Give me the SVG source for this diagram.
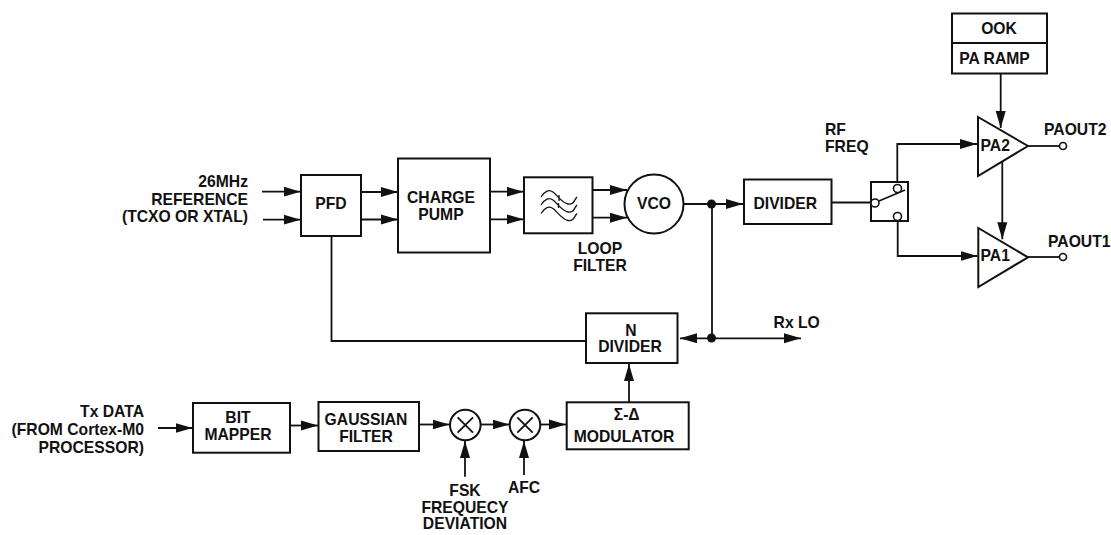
<svg xmlns="http://www.w3.org/2000/svg" width="1111" height="535" viewBox="0 0 1111 535">
<style>
text{font-family:"Liberation Sans",Arial,sans-serif;font-weight:700;font-size:15.7px;fill:#111;text-anchor:middle}
.r{text-anchor:end}
.s{text-anchor:start}
.b{fill:#fff;stroke:#111;stroke-width:2}
.c{fill:none;stroke:#111;stroke-width:1.8}
.t{fill:none;stroke:#111;stroke-width:1.3}
.o{fill:#fff;stroke:#111;stroke-width:1.6}
</style>
<defs>
<marker id="a" markerUnits="userSpaceOnUse" markerWidth="17" markerHeight="11" refX="17" refY="5.5" orient="auto-start-reverse"><path d="M0 .5L17 5.500L0 10.500z" fill="#111"/></marker>
</defs>
<rect width="1111" height="535" fill="#fff"/>
<g id="connectors">
<path class="c" d="M262 191.700H300.500" marker-end="url(#a)"/>
<path class="c" d="M263 219.700H300.500" marker-end="url(#a)"/>
<path class="c" d="M361 192H398" marker-end="url(#a)"/>
<path class="c" d="M361 219.500H398" marker-end="url(#a)"/>
<path class="c" d="M490 191.700H523.500" marker-end="url(#a)"/>
<path class="c" d="M490 219.300H523.500" marker-end="url(#a)"/>
<path class="c" d="M592 190H627" marker-end="url(#a)"/>
<path class="c" d="M592 217.700H627" marker-end="url(#a)"/>
<path class="c" d="M684 204H743" marker-end="url(#a)"/>
<path class="c" d="M712 204V338"/>
<path class="c" d="M331.500 236V341H586"/>
<path class="c" d="M680 338.300H801" marker-start="url(#a)" marker-end="url(#a)"/>
<path class="c" d="M831 202.500H871"/>
<path class="c" d="M897.300 182V144H977" marker-end="url(#a)"/>
<path class="c" d="M897.700 221V256H977.500" marker-end="url(#a)"/>
<path class="c" d="M1000.700 73V128" marker-end="url(#a)"/>
<path class="c" d="M1002.300 161V239.300" marker-end="url(#a)"/>
<path class="c" d="M1028 146H1060"/>
<path class="c" d="M1028 257H1060"/>
<path class="c" d="M629 402V364" marker-end="url(#a)"/>
<path class="c" d="M158 428H192.500" marker-end="url(#a)"/>
<path class="c" d="M290 425.500H318" marker-end="url(#a)"/>
<path class="c" d="M419 424.500H449.500" marker-end="url(#a)"/>
<path class="c" d="M480.500 424.500H509.500" marker-end="url(#a)"/>
<path class="c" d="M540 424.500H566" marker-end="url(#a)"/>
<path class="c" d="M465 476.700V441" marker-end="url(#a)"/>
<path class="c" d="M524 475V441" marker-end="url(#a)"/>
<circle cx="711.500" cy="204" r="4.500" fill="#111"/>
<circle cx="711.500" cy="338" r="4.500" fill="#111"/>
</g>
<g id="input-labels">
<text class="r" x="248" y="187">26MHz</text>
<text class="r" x="248" y="205">REFERENCE</text>
<text class="r" x="248" y="222">(TCXO OR XTAL)</text>
</g>
<g id="pfd"><rect class="b" x="301" y="175" width="60" height="61"/><text x="331" y="209">PFD</text></g>
<g id="charge-pump"><rect class="b" x="398" y="158.500" width="92" height="94"/><text x="441" y="203">CHARGE</text><text x="441" y="220">PUMP</text></g>
<g id="loop-filter"><rect class="b" x="524" y="177.300" width="68.500" height="56"/>
<path class="t" d="M541 197C545 191 549 189 553 192S562 203 568 204S574 200 577 197M541 205C545 199 549 197 553 200S562 211 568 212S574 208 577 205M541 213.500C545 207.500 549 205.500 553 208.500S562 219.500 568 220.500S574 216.500 577 213.500M559 195L559 201M558.500 203L558.500 208"/>
<text x="600" y="254">LOOP</text><text x="600" y="271">FILTER</text></g>
<g id="vco"><circle class="b" cx="654" cy="204" r="29.500"/><text x="654" y="209">VCO</text></g>
<g id="divider"><rect class="b" x="744" y="179.500" width="87.500" height="44.500"/><text x="785.300" y="209">DIVIDER</text></g>
<g id="rf-freq"><text class="s" x="825" y="135">RF</text><text class="s" x="825" y="152">FREQ</text></g>
<g id="switch"><rect class="b" x="871" y="182" width="37" height="39"/><path class="c" d="M879 201L905 190"/><circle class="o" cx="875" cy="203" r="4"/><circle class="o" cx="897.500" cy="188.500" r="4"/><circle class="o" cx="897.500" cy="216.500" r="4"/></g>
<g id="ook-pa-ramp"><rect class="b" x="952" y="13.500" width="95" height="60"/><path class="c" d="M952 43H1047"/><text x="999" y="34">OOK</text><text x="994.500" y="64">PA RAMP</text></g>
<g id="pa2"><path class="b" d="M978 117L1028 146L978 176z"/><text class="s" x="980.500" y="151">PA2</text><circle class="o" cx="1063" cy="146" r="3.500"/><text class="s" x="1044" y="135">PAOUT2</text></g>
<g id="pa1"><path class="b" d="M978.300 228L1028 257.300L978.300 287z"/><text class="s" x="980.500" y="261">PA1</text><circle class="o" cx="1063" cy="257" r="3.500"/><text class="s" x="1048" y="247">PAOUT1</text></g>
<g id="n-divider"><rect class="b" x="586" y="313.300" width="91.500" height="49.700"/><text x="631" y="335.500">N</text><text x="630" y="352">DIVIDER</text></g>
<text x="796.700" y="327.700">Rx LO</text>
<g id="tx-label"><text class="r" x="144" y="417">Tx DATA</text><text class="r" x="144" y="435">(FROM Cortex-M0</text><text class="r" x="144" y="452.500">PROCESSOR)</text></g>
<g id="bit-mapper"><rect class="b" x="193" y="403" width="97" height="49.700"/><text x="238" y="423">BIT</text><text x="238" y="440">MAPPER</text></g>
<g id="gaussian"><rect class="b" x="318.500" y="402" width="100.500" height="49"/><text x="366" y="425">GAUSSIAN</text><text x="366" y="442">FILTER</text></g>
<g id="mixer1"><circle class="b" cx="465.300" cy="425" r="15.300"/><path class="c" d="M457.600 417.300L473 432.700M473 417.300L457.600 432.700"/></g>
<g id="mixer2"><circle class="b" cx="525" cy="425" r="15.300"/><path class="c" d="M517.300 417.300L532.700 432.700M532.700 417.300L517.300 432.700"/></g>
<g id="modulator"><rect class="b" x="566.700" y="402.300" width="122" height="47"/><text x="626.700" y="420">Σ-Δ</text><text x="624" y="442">MODULATOR</text></g>
<g id="fsk-label"><text x="465" y="495.700">FSK</text><text x="465" y="512.700">FREQUECY</text><text x="465" y="529">DEVIATION</text></g>
<text x="524" y="493">AFC</text>
</svg>
